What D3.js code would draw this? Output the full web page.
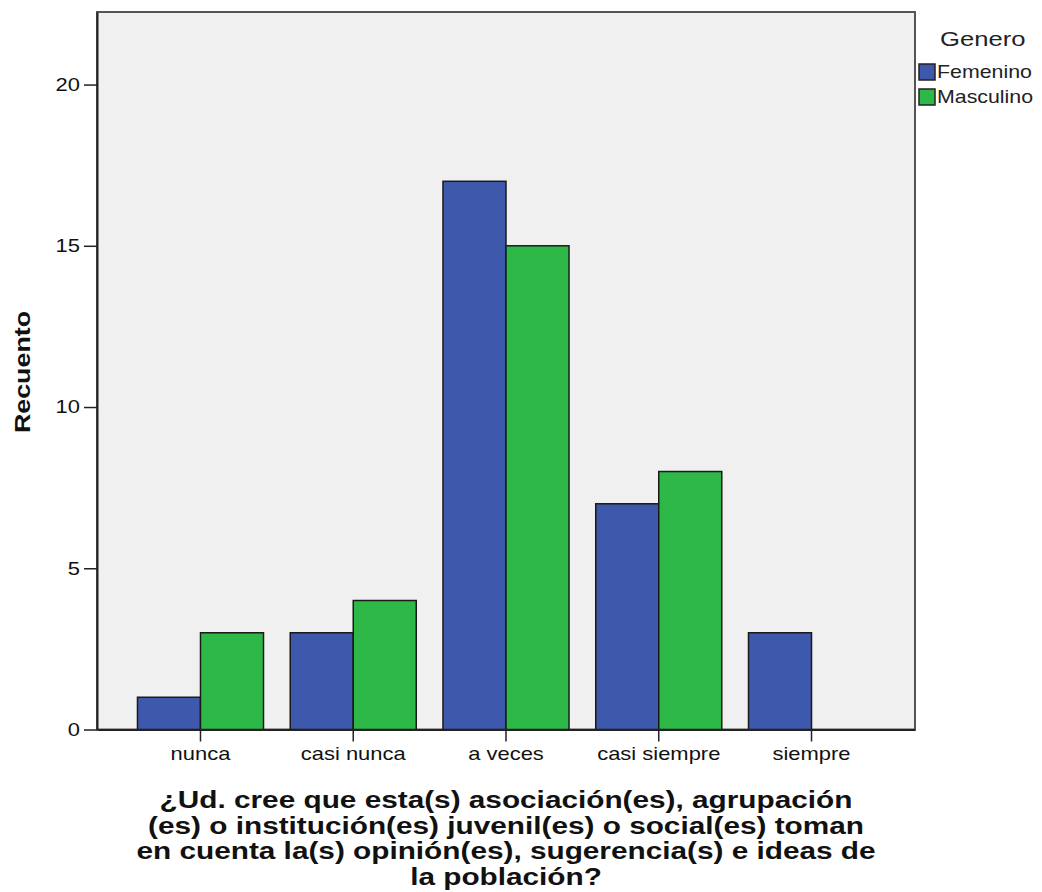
<!DOCTYPE html>
<html><head><meta charset="utf-8">
<script src="https://cdn.jsdelivr.net/npm/d3@7"></script>
<style>body{margin:0;background:#fff;} text{font-family:"Liberation Sans",Arial,sans-serif;}</style>
</head><body>
<svg id="c" width="1042" height="892"></svg>
<script>
const categories = ["nunca","casi nunca","a veces","casi siempre","siempre"];
const seriesNames = ["Femenino","Masculino"];
const femenino = [1,3,17,7,3];
const masculino = [3,4,15,8,0];
const yTicks = [0,5,10,15,20];
const colors = ["#3e58ac","#2eb848"];
const titleLines = ["¿Ud. cree que esta(s) asociación(es), agrupación","(es) o institución(es) juvenil(es) o social(es) toman","en cuenta la(s) opinión(es), sugerencia(s) e ideas de","la población?"];

const SX = 1.22;
const svg = d3.select("#c");
const L = 97, R = 915, T = 12, B = 729.5;

const x = d3.scaleBand().domain(categories).range([L,R]).paddingInner(0.175).paddingOuter(0.265);
const x1 = d3.scaleBand().domain(seriesNames).range([0, x.bandwidth()]);
const y = d3.scaleLinear().domain([0,22.25]).range([B,T]);

svg.append("rect").attr("x",L).attr("y",T).attr("width",R-L).attr("height",B-T)
  .attr("fill","#f0f0f0").attr("stroke","#555").attr("stroke-width",2);

const data = categories.map((c,i)=>({cat:c, vals:[femenino[i], masculino[i]]}));
const g = svg.append("g");
data.forEach(d=>{
  d.vals.forEach((v,j)=>{
    if(v<=0) return;
    g.append("rect").attr("x",x(d.cat)+x1(seriesNames[j])).attr("y",y(v))
      .attr("width",x1.bandwidth()).attr("height",y(0)-y(v))
      .attr("fill",colors[j]).attr("stroke","#1a1a1a").attr("stroke-width",1.5);
  });
});

// axes
const ya = svg.append("g").attr("transform",`translate(${L},0)`)
  .call(d3.axisLeft(y).tickValues(yTicks).tickSize(13).tickSizeOuter(0).tickPadding(4));
ya.select(".domain").attr("stroke","#222").attr("stroke-width",2);
ya.selectAll(".tick line").attr("stroke","#222").attr("stroke-width",1.5);
ya.selectAll(".tick text").attr("font-size",18).attr("fill","#111")
  .attr("font-family","Liberation Sans, Arial, sans-serif")
  .attr("transform",function(){const xx=+d3.select(this).attr("x");return `translate(${xx},0) scale(${SX},1) translate(${-xx},0)`;});

const xa = svg.append("g").attr("transform",`translate(0,${B})`)
  .call(d3.axisBottom(x).tickSize(12).tickSizeOuter(0).tickPadding(6));
xa.select(".domain").attr("stroke","#222").attr("stroke-width",2);
xa.selectAll(".tick line").attr("stroke","#222").attr("stroke-width",1.5);
xa.selectAll(".tick text").attr("font-size",18).attr("fill","#111")
  .attr("font-family","Liberation Sans, Arial, sans-serif")
  .attr("transform",`scale(${SX},1)`).attr("x",0);

// y title
svg.append("text").attr("transform",`translate(30,372) rotate(-90) scale(${SX},1)`)
  .attr("text-anchor","middle").attr("font-size",22).attr("font-weight","bold").attr("fill","#111").text("Recuento");

// x title
const tt = svg.append("g");
titleLines.forEach((t,i)=>{
  tt.append("text").attr("transform",`translate(506,${808+i*25.5}) scale(${SX},1)`)
    .attr("text-anchor","middle").attr("font-size",24.4).attr("font-weight","bold").attr("fill","#111").text(t);
});

// legend
svg.append("text").attr("transform",`translate(940,46) scale(${SX},1)`)
  .attr("font-size",21).attr("fill","#222").text("Genero");
seriesNames.forEach((s,i)=>{
  const yy = 64 + i*25;
  svg.append("rect").attr("x",919).attr("y",yy).attr("width",16).attr("height",16)
    .attr("fill",colors[i]).attr("stroke","#222").attr("stroke-width",1.5);
  svg.append("text").attr("transform",`translate(937,${yy+14}) scale(${SX},1)`)
    .attr("font-size",17.5).attr("fill","#222").text(s);
});
</script>
</body></html>
